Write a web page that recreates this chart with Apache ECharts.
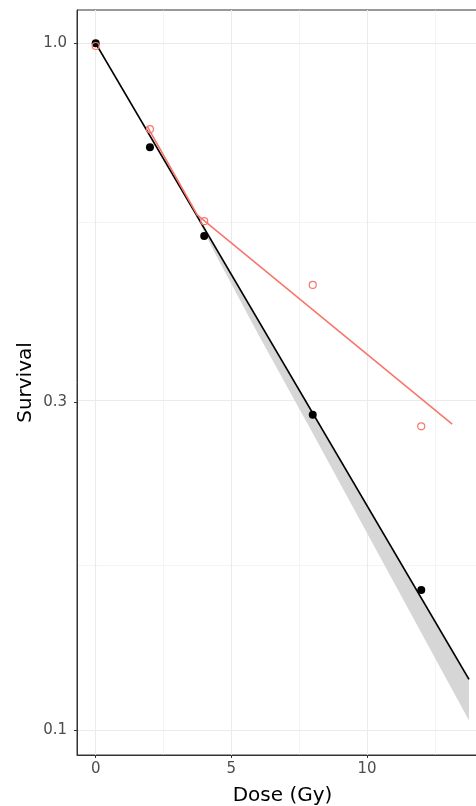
<!DOCTYPE html>
<html>
<head>
<meta charset="utf-8">
<script src="https://cdn.jsdelivr.net/npm/echarts@6/dist/echarts.min.js"></script>
<style>html,body{margin:0;padding:0;background:#fff}#c{width:476px;height:806px}</style>
</head>
<body>
<div id="c"></div>
<script>
// Observed points
const doseBlack = [0, 2, 4, 8, 12];
const survBlack = [1.0, 0.706, 0.524, 0.288, 0.160];
const doseRed = [0, 2, 4, 8, 12];
const survRed = [0.991, 0.750, 0.551, 0.445, 0.277];
// Fitted curves
const fitBlackX = [0, 13.76];
const fitBlackY = [1.0, 0.1186];
const fitRedX = [1.9, 3.75, 13.14];
const fitRedY = [0.757, 0.562, 0.279];
// Confidence ribbon (black fit)
const ribbonX = [3.6, 4.3, 6, 8, 13.76];
const ribbonHigh = [0.5724, 0.5137, 0.3946, 0.2893, 0.1186];
const ribbonLow = [0.5724, 0.5033, 0.3764, 0.2707, 0.1033];
// Axis ticks
const xTicks = [0, 5, 10];
const xMinor = [2.5, 7.5, 12.5];
const yTicks = [0.1, 0.3, 1.0];

const L = Math.log10;
const yMajor = yTicks.map(L);
const yMinor = [];
for (let i = 0; i < yMajor.length - 1; i++) yMinor.push((yMajor[i] + yMajor[i + 1]) / 2);

const pts = (xs, ys) => xs.map((x, i) => [x, L(ys[i])]);
const RED = '#F8766D';

const gridLines = [].concat(
  xTicks.map(v => ({xAxis: v, lineStyle: {width: 1.1}})),
  xMinor.map(v => ({xAxis: v, lineStyle: {width: 0.55}})),
  yMajor.map(v => ({yAxis: v, lineStyle: {width: 1.1}})),
  yMinor.map(v => ({yAxis: v, lineStyle: {width: 0.55}}))
);

const chart = echarts.init(document.getElementById('c'), null, {renderer: 'canvas'});
chart.setOption({
  animation: false,
  backgroundColor: '#fff',
  grid: {left: 77, top: 10, width: 411, height: 745, outerBoundsMode: 'none', containLabel: false,
    show: true, borderColor: '#333333', borderWidth: 1, backgroundColor: '#fff'},
  xAxis: {
    type: 'value', min: -0.689, max: 14.46,
    name: 'Dose (Gy)', nameLocation: 'middle', nameGap: 31, nameMoveOverlap: false,
    nameTextStyle: {fontFamily: 'DejaVu Sans', fontSize: 20, color: '#000'},
    axisLine: {show: true, onZero: false, lineStyle: {color: '#333333', width: 1}},
    axisTick: {show: true, length: 3, lineStyle: {color: '#333333'}, customValues: xTicks},
    axisLabel: {fontFamily: 'DejaVu Sans', fontSize: 15, color: '#4D4D4D', margin: 7, customValues: xTicks},
    splitLine: {show: false}
  },
  yAxis: {
    type: 'value', min: -1.036, max: 0.0485,
    name: 'Survival', nameLocation: 'middle', nameGap: 41, nameMoveOverlap: false,
    nameTextStyle: {fontFamily: 'DejaVu Sans', fontSize: 20, color: '#000'},
    axisLine: {show: true, onZero: false, lineStyle: {color: '#333333', width: 1}},
    axisTick: {show: true, length: 3, lineStyle: {color: '#333333'}, customValues: yMajor},
    axisLabel: {fontFamily: 'DejaVu Sans', fontSize: 15, color: '#4D4D4D', margin: 10, customValues: yMajor,
      formatter: v => Math.pow(10, v).toFixed(1)},
    splitLine: {show: false}
  },
  series: [
    {
      type: 'line', data: [], silent: true, z: 0,
      markLine: {silent: true, z: 0, symbol: 'none', label: {show: false}, animation: false,
        lineStyle: {color: '#EBEBEB', type: 'solid'}, data: gridLines}
    },
    {
      type: 'custom', z: 2, silent: true,
      data: [[ribbonX[0], L(ribbonHigh[0])]],
      renderItem: (params, api) => {
        const top = ribbonX.map((x, i) => api.coord([x, L(ribbonHigh[i])]));
        const bot = ribbonX.map((x, i) => api.coord([x, L(ribbonLow[i])])).reverse();
        return {type: 'polygon', shape: {points: top.concat(bot)}, style: {fill: '#D6D6D6'}};
      }
    },
    {type: 'line', z: 3, data: pts(fitBlackX, fitBlackY), showSymbol: false, lineStyle: {color: '#000', width: 1.7}, silent: true},
    {type: 'line', z: 3, data: pts(fitRedX, fitRedY), showSymbol: false, lineStyle: {color: RED, width: 1.6}, silent: true},
    {type: 'scatter', z: 4, data: pts(doseBlack, survBlack), symbol: 'circle', symbolSize: 8, itemStyle: {color: '#000', opacity: 1}},
    {type: 'scatter', z: 5, data: pts(doseRed, survRed), symbol: 'circle', symbolSize: 7,
      itemStyle: {color: 'rgba(0,0,0,0)', borderColor: RED, borderWidth: 1.2, opacity: 1}}
  ]
});
</script>
</body>
</html>
